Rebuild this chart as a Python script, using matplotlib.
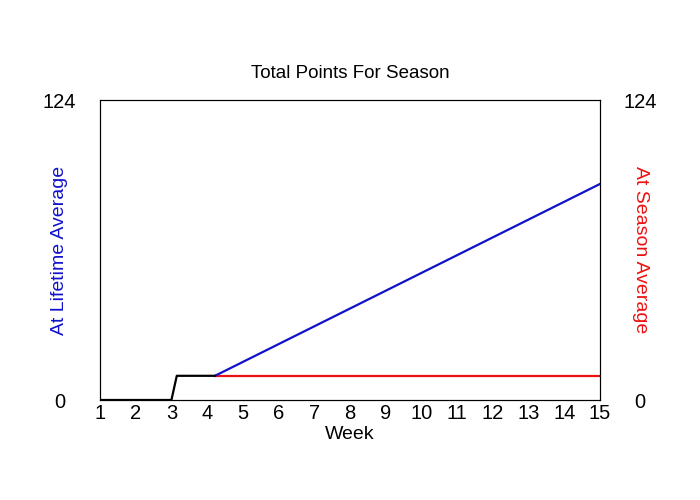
import matplotlib
matplotlib.use("Agg")
import matplotlib.pyplot as plt

plt.rcParams["font.family"] = ["Liberation Sans", "DejaVu Sans"]

# total points, fractional weeks
lifetime_weeks = [1, 2, 3, 3.15, 4, 4.22]
lifetime_points = [0, 0, 0, 10, 10, 10]
proj_weeks = [4.22, 15]
lifetime_proj = [10, 89.3]
season_proj = [10, 10]
week_ticks = list(range(1, 16))
y_max = 124

fig = plt.figure(figsize=(7, 5), dpi=100)
ax = fig.add_axes([100 / 700, 100 / 500, 500 / 700, 300 / 500])

ax.plot(proj_weeks, season_proj, color="#ee1111", lw=1.6)
ax.plot(proj_weeks, lifetime_proj, color="#1111cc", lw=1.6)
ax.plot(lifetime_weeks, lifetime_points, color="black", lw=1.6)

ax.set_xlim(1, 15)
ax.set_ylim(0, y_max)
ax.set_xticks(week_ticks)
ax.set_xticklabels([str(w) for w in week_ticks])
ax.set_yticks([0, y_max])
ax.tick_params(length=0, labelsize=14.5, pad=3)
ax.tick_params(axis="y", pad=29)
for lab in ax.get_yticklabels():
    lab.set_horizontalalignment("center")
ax.set_xlabel("Week", fontsize=14, labelpad=2)
ax.set_ylabel("At Lifetime Average", color="#1111cc", fontsize=14, va="center")
ax.yaxis.set_label_coords(-0.08, 0.5)
ax.set_title("Total Points For Season", fontsize=13.5, pad=16)

ax2 = ax.twinx()
ax2.set_ylim(0, y_max)
ax2.set_yticks([0, y_max])
ax2.tick_params(length=0, labelsize=14.5, pad=29)
for lab in ax2.get_yticklabels():
    lab.set_horizontalalignment("center")
ax2.set_ylabel("At Season Average", color="#ee1111", fontsize=14,
               rotation=270, va="center")
ax2.yaxis.set_label_coords(1.08, 0.5)

fig.savefig("out.png")
